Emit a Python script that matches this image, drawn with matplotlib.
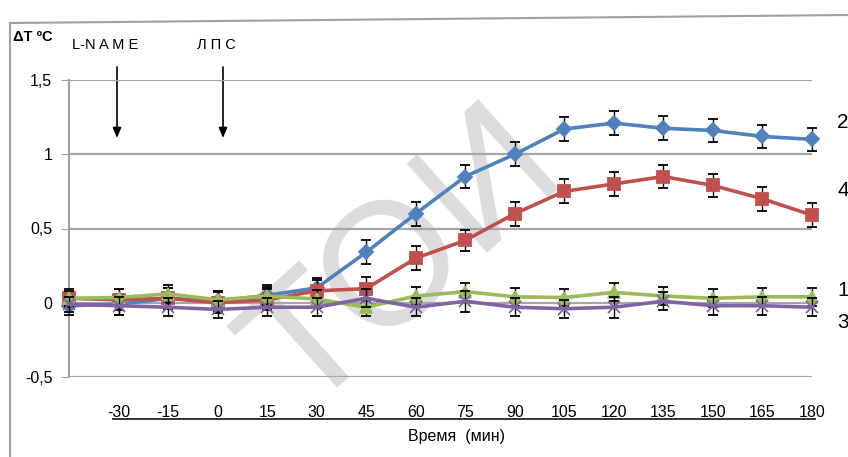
import numpy as np
import matplotlib
matplotlib.use("Agg")
import matplotlib.pyplot as plt
from matplotlib.lines import Line2D
from matplotlib.patches import FancyArrowPatch

plt.rcParams['font.family'] = ['Liberation Sans', 'DejaVu Sans']

# время (мин); первая точка без подписи
time_labels = ['', '-30', '-15', '0', '15', '30', '45', '60', '75', '90',
               '105', '120', '135', '150', '165', '180']

# серия 2 (синяя)
s2 = [-0.02, -0.01, 0.03, 0.01, 0.05, 0.10, 0.34, 0.60, 0.85, 1.00,
      1.17, 1.21, 1.175, 1.16, 1.12, 1.10]
e2 = [0.06, 0.07, 0.07, 0.07, 0.07, 0.07, 0.08, 0.08, 0.08, 0.08,
      0.08, 0.08, 0.08, 0.08, 0.08, 0.08]
# серия 4 (красная)
s4 = [0.03, 0.02, 0.03, 0.00, 0.02, 0.08, 0.095, 0.30, 0.42, 0.60,
      0.75, 0.80, 0.85, 0.79, 0.70, 0.59]
e4 = [0.06, 0.07, 0.07, 0.07, 0.07, 0.07, 0.08, 0.08, 0.07, 0.08,
      0.08, 0.08, 0.08, 0.08, 0.08, 0.08]
# серия 1 (зелёная)
s1 = [0.03, 0.035, 0.06, 0.02, 0.045, 0.025, -0.03, 0.045, 0.075, 0.04,
      0.035, 0.07, 0.045, 0.03, 0.04, 0.04]
e1 = [0.05, 0.06, 0.06, 0.06, 0.06, 0.06, 0.06, 0.06, 0.06, 0.06,
      0.06, 0.06, 0.06, 0.06, 0.06, 0.06]
# серия 3 (фиолетовая)
s3 = [-0.01, -0.02, -0.03, -0.045, -0.03, -0.03, 0.03, -0.03, 0.01, -0.03,
      -0.04, -0.03, 0.01, -0.02, -0.02, -0.03]
e3 = [0.05, 0.06, 0.06, 0.06, 0.06, 0.06, 0.06, 0.06, 0.07, 0.06,
      0.06, 0.07, 0.06, 0.06, 0.06, 0.06]

W, H = 848, 457
fig = plt.figure(figsize=(W / 100, H / 100), dpi=100)
ax = fig.add_axes([69 / W, 1 - 377 / H, (812 - 69) / W, (377 - 80) / H])
ax.set_zorder(2)
ax.patch.set_alpha(0)

x = np.arange(len(time_labels))

# водяной знак (под графиком)
fig.text(405 / W, 1 - 262 / H, 'ТОИ', fontsize=125, color='#dcdcdc',
         rotation=42, ha='center', va='center', zorder=0)

series = [
    (s2, e2, '#4F81BD', 'D', 7, 1),
    (s4, e4, '#C0504D', 's', 9, 2),
    (s1, e1, '#9BBB59', '^', 9, 3),
    (s3, e3, '#8064A2', 'x', 8, 4),
]
for y, e, c, m, ms, z in series:
    ax.errorbar(x, y, yerr=e, color=c, lw=2.6, marker=m, ms=ms, mec=c, mew=1.3,
                ecolor='black', elinewidth=1, capsize=3.5, capthick=1,
                zorder=3 + z, clip_on=False)

ax.set_xlim(0, 15)
ax.set_ylim(-0.5, 1.5)
ax.set_yticks([-0.5, 0, 0.5, 1, 1.5])
ax.set_yticklabels(['-0,5', '0', '0,5', '1', '1,5'], fontsize=11.5)
ax.set_xticks(x)
ax.set_xticklabels(time_labels, fontsize=11.5)
ax.tick_params(axis='x', length=0, pad=20)
ax.tick_params(axis='y', length=6, color='#a0a0a0', pad=6)
ax.grid(axis='y', color='#a6a6a6', lw=1.6)
ax.set_axisbelow(True)
for side in ['top', 'right', 'bottom']:
    ax.spines[side].set_visible(False)
ax.spines['left'].set_color('#a0a0a0')
ax.spines['left'].set_linewidth(1.5)

# подписи серий справа
for lab, yp in [('2', 123), ('4', 190), ('1', 290), ('3', 323)]:
    fig.text(837 / W, 1 - yp / H, lab, fontsize=15, ha='left', va='center')

# заголовок оси и метки воздействий
fig.text(13 / W, 1 - 37 / H, 'ΔT ºC', fontsize=10.5, fontweight='bold', va='center')
fig.text(72 / W, 1 - 45 / H, 'L-N A M E', fontsize=10.5, va='center')
fig.text(197 / W, 1 - 45 / H, 'Л П С', fontsize=10.5, va='center')
for xp in [117, 223]:
    fig.add_artist(FancyArrowPatch(
        (xp / W, 1 - 67 / H), (xp / W, 1 - 138 / H), transform=fig.transFigure,
        arrowstyle='-|>,head_length=6,head_width=2.5', color='black', lw=1.2,
        shrinkA=0, shrinkB=0))

# ось времени
fig.add_artist(Line2D([113 / W, 815 / W], [1 - 419 / H, 1 - 419 / H],
                      transform=fig.transFigure, color='#333333', lw=1.4))
fig.text(456 / W, 1 - 437 / H, 'Время  (мин)', fontsize=11.5, ha='center', va='center')

# рамка
fig.add_artist(Line2D([10 / W, 1], [1 - 23 / H, 1 - 15 / H],
                      transform=fig.transFigure, color='#a0a0a0', lw=1.5))
fig.add_artist(Line2D([10 / W, 10 / W], [1 - 23 / H, 0],
                      transform=fig.transFigure, color='#a0a0a0', lw=1.5))

fig.savefig('out.png', dpi=100)
